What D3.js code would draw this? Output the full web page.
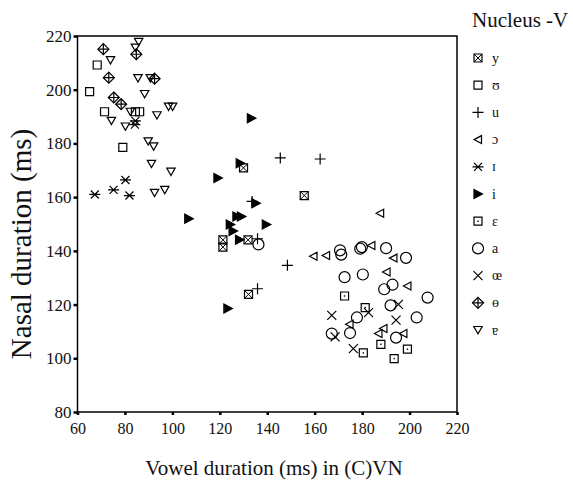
<!DOCTYPE html>
<html><head><meta charset="utf-8">
<script src="https://cdn.jsdelivr.net/npm/d3@7"></script>
<style>body{margin:0;background:#fff}svg{display:block}text{font-family:"Liberation Serif","Times New Roman",serif;fill:#111}</style>
</head><body><svg id="c" width="573" height="490"></svg>
<script>
const xTicks = [60, 80, 100, 120, 140, 160, 180, 200, 220];
const yTicks = [80, 100, 120, 140, 160, 180, 200, 220];
const legendTitle = "Nucleus -V";
const seriesNames = ["y", "ʊ", "u", "ɔ", "ɪ", "i", "ɛ", "a", "œ", "ɵ", "ɐ"];
const seriesShapes = ["sqx", "sq", "plus", "triL", "star", "triR", "sqdot", "circle", "cross", "diamond", "triD"];

const s_y = [[130,170.9],[155.6,160.6],[121.3,144.1],[121.3,141.4],[131.9,144.1],[132.1,123.8]];
const s_upsilon = [[68.3,209.2],[65.1,199.3],[71.4,191.8],[84.4,191.8],[86.2,191.8],[79.1,178.5]];
const s_u = [[145.5,174.6],[162.3,174.2],[133.6,158.4],[135.9,144.5],[148.5,134.6],[135.9,125.9]];
const s_openo = [[159.5,138],[164.8,138.3],[187.6,154],[183.9,142],[193.2,137.3],[190.3,132.1],[199.1,126.9],[174.7,112.7],[189,111.1],[186.9,109.2],[197.4,109.2]];
const s_smallI = [[84.4,188.4],[84.2,187],[80.2,166.4],[75.2,162.7],[67.3,161],[81.9,160.6]];
const s_i = [[133.3,189.4],[128.6,172.6],[119.2,167.1],[135.2,157.7],[106.9,152],[127.2,152.8],[129.1,152.8],[139.6,149.8],[124.4,149.8],[125.6,147.4],[128.3,144.1],[123.4,118.5]];
const s_epsilon = [[172.6,123.2],[181.3,118.9],[187.9,105.2],[180.5,102],[199.1,103.4],[193.5,99.9]];
const s_a = [[136.3,142.4],[170.7,140.2],[171.2,138.6],[179.2,140.8],[179.9,141.4],[190.1,141],[198.5,137.4],[172.6,130.2],[180.3,131.2],[192.8,127.4],[189.3,125.7],[207.6,122.6],[192,119.7],[177.8,115.2],[203,115.2],[174.9,109.4],[167.2,109.2],[194.3,107.7]];
const s_oe = [[195.3,120.1],[182.7,117],[167.2,116],[194.3,114.2],[168.6,108],[176.3,103.6]];
const s_barO = [[70.9,215.1],[84.8,213.2],[73.2,204.5],[92.5,204.1],[75.3,197.1],[78.4,194.6]];
const s_turnA = [[85.8,217.8],[84.4,215.7],[73.9,211],[85.5,204.3],[90.7,204.3],[88.3,198.4],[98.4,193.7],[100.1,193.7],[82.3,191.8],[93.5,190.5],[74.3,188.4],[80.2,186.3],[89.8,180.8],[92.1,178.9],[91.2,172.4],[99.4,169.5],[92.5,161.6],[96.8,162.7]];
const seriesValues = [s_y, s_upsilon, s_u, s_openo, s_smallI, s_i, s_epsilon, s_a, s_oe, s_barO, s_turnA];

const svg = d3.select("#c");
const L = 77.5, R = 457, T = 36, B = 412;
const x = d3.scaleLinear().domain([60, 220]).range([L, R]);
const y = d3.scaleLinear().domain([80, 220]).range([B, T]);

svg.append("rect").attr("width",573).attr("height",490).attr("fill","#fff");

function shapePath(kind){
  switch(kind){
    case "sq": case "sqx": case "sqdot": return "M-4,-4H4V4H-4Z";
    case "triL": return "M-4,0L3.5,-4V4Z";
    case "triR": return "M-4,-4.5L4.5,0L-4,4.5Z";
    case "triD": return "M-4.2,-3.5H4.2L0,3.8Z";
    case "diamond": return "M0,-5.5L5.5,0L0,5.5L-5.5,0Z";
    default: return null;
  }
}
function drawMarker(g, kind){
  const sw = 1.2;
  if (kind === "circle") {
    g.append("circle").attr("r",5.5).attr("fill","none").attr("stroke","#000").attr("stroke-width",sw);
  } else if (kind === "plus") {
    g.append("path").attr("d","M-5.5,0H5.5M0,-5.5V5.5").attr("stroke","#000").attr("stroke-width",sw).attr("fill","none");
  } else if (kind === "cross") {
    g.append("path").attr("d","M-4.5,-4.5L4.5,4.5M-4.5,4.5L4.5,-4.5").attr("stroke","#000").attr("stroke-width",sw).attr("fill","none");
  } else if (kind === "star") {
    g.append("path").attr("d","M-5.5,0H5.5M-4,-4L4,4M-4,4L4,-4").attr("stroke","#000").attr("stroke-width",sw).attr("fill","none");
  } else {
    const filled = kind === "triR";
    g.append("path").attr("d",shapePath(kind)).attr("fill",filled?"#000":"none").attr("stroke","#000").attr("stroke-width",sw).attr("stroke-linejoin","miter");
    if (kind === "sqx") g.append("path").attr("d","M-4,-4L4,4M-4,4L4,-4").attr("stroke","#000").attr("stroke-width",1);
    if (kind === "sqdot") g.append("rect").attr("x",-0.7).attr("y",-0.7).attr("width",1.4).attr("height",1.4).attr("fill","#000");
    if (kind === "diamond") g.append("path").attr("d","M0,-5.5V5.5M-5.5,0H5.5").attr("stroke","#000").attr("stroke-width",1.2);
  }
}

svg.append("rect").attr("x",L).attr("y",T).attr("width",R-L).attr("height",B-T)
  .attr("fill","none").attr("stroke","#000").attr("stroke-width",1.5);

const gx = svg.append("g").attr("transform",`translate(0,${B})`)
  .call(d3.axisBottom(x).tickValues(xTicks).tickSize(3).tickPadding(8).tickFormat(d3.format("d")));
const gy = svg.append("g").attr("transform",`translate(${L},0)`)
  .call(d3.axisLeft(y).tickValues(yTicks).tickSize(4).tickPadding(2).tickFormat(d3.format("d")));
[gx, gy].forEach(g => {
  g.select(".domain").remove();
  g.selectAll(".tick line").attr("stroke","#000").attr("stroke-width",2.5);
  g.selectAll(".tick text").attr("font-family","Liberation Serif").attr("fill","#111");
});
gx.selectAll(".tick text").attr("font-size",16);
gy.selectAll(".tick text").attr("font-size",17);

svg.append("text").attr("x",274).attr("y",475).attr("text-anchor","middle")
  .attr("font-size",21).text("Vowel duration (ms) in (C)VN");
svg.append("text").attr("transform","translate(31,244) rotate(-90)").attr("text-anchor","middle")
  .attr("font-size",29).text("Nasal duration (ms)");

seriesValues.forEach((vals, si) => {
  const g = svg.append("g").attr("class","series");
  vals.forEach(d => {
    const m = g.append("g").attr("transform",`translate(${x(d[0])},${y(d[1])})`);
    drawMarker(m, seriesShapes[si]);
  });
});

svg.append("text").attr("x",472).attr("y",27).attr("font-size",21).text(legendTitle);
seriesNames.forEach((n, i) => {
  const yy = 58 + i * 27.2;
  const m = svg.append("g").attr("transform",`translate(478,${yy})`);
  drawMarker(m, seriesShapes[i]);
  svg.append("text").attr("x",492).attr("y",yy+4.5).attr("font-size",14).text(n);
});
</script></body></html>
